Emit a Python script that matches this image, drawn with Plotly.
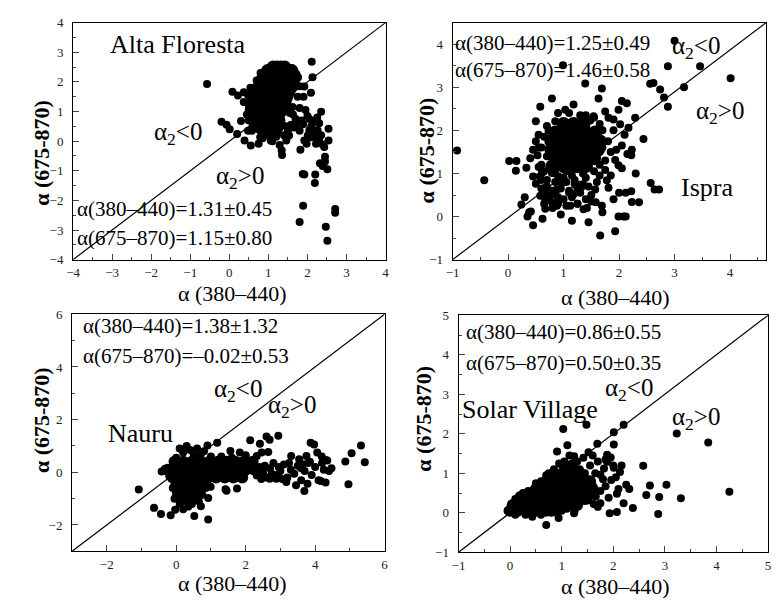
import plotly.graph_objects as go

FONT = "Liberation Serif"

# ---------------- axis ranges / ticks ----------------
p1_xrange = [-4, 4]; p1_yrange = [-4, 4]
p2_xrange = [-1, 4.65]; p2_yrange = [-1, 4.5]
p3_xrange = [-3, 6]; p3_yrange = [-3, 6]
p4_xrange = [-1, 5]; p4_yrange = [-1, 5]

# ---------------- Panel 1: Alta Floresta ----------------
p1_x = [-0.57, -0.2, -0.07, 0.01, 0.08, 0.22, 0.2, 0.3, 0.37, 0.37, 0.39, 0.48, 0.54, 0.55, 0.58,
        0.75, 0.79, 0.48, 0.71, 0.87, 1.06, 1.25, 1.34, 1.29, 1.35, 1.5, 1.46, 1.53, 1.82, 1.92,
        1.98, 2.1, 2.11, 2.13, 2.09, 1.92, 1.88, 2.2, 2.19, 1.89, 1.8, 2.47, 2.51, 2.71, 2.71,
        2.35, 2.54, 2.54, 2.51, 2.45, 2.45, 2.39, 2.32, 2.22, 2.3, 2.26, 2.18, 2.0, 1.89, 1.71,
        1.63, 1.8, 1.92, 1.76, 2.39, 2.43, 2.05, 2.01, 2.18, 1.8, 1.66,
        1.55, 1.62, 1.7, 1.75, 1.8, 1.68, 1.58, 1.45, 1.4, 1.2, 0.95, 0.85, 1.1, 0.6, 0.5, 0.45,
        0.5, 0.55, 0.62, 0.7, 0.8, 1.9, 1.95, 2.05, 2.1, 2.25, 2.3, 2.35, 2.15, 1.85, 1.72, 1.6]
p1_y = [1.93, 0.65, 0.55, 0.4, 1.67, 1.54, 0.24, 0.68, 1.32, 1.65, 0.02, 1.56, 1.8, -0.15, 0.35,
        -0.09, 0.13, 0.35, 0.88, 0.68, 0.02, 0.35, -0.31, -0.13, -0.47, 0.35, 0.02, 0.19, -0.29, 0.02,
        -0.09, 0.13, 2.68, 2.16, 1.63, -1.13, -1.11, -1.13, -1.41, -2.18, -2.73, -2.89, -3.36, -2.29, -2.42,
        0.99, 0.42, 0.02, -0.95, -0.53, -0.69, -0.84, -0.75, -0.09, 0.02, 0.37, 0.66, 0.85, 0.57, 0.57,
        0.9, 1.12, 1.84, 2.16, -0.11, -0.2, 0.37, 0.19, 0.13, 0.35, 0.46,
        0.95, 1.15, 0.75, 1.5, 1.85, 1.9, 0.55, 0.5, 0.2, 0.15, 0.2, 0.1, 0.0, 0.55, 0.7, 0.9,
        1.2, 1.5, 1.8, 2.05, 2.3, 1.5, 1.05, 0.75, 0.5, 0.8, 0.6, 0.2, 0.25, 0.7, 2.25, 2.45]
p1_core_y = [2.5, 2.38, 2.26, 2.14, 2.02, 1.9, 1.78, 1.66, 1.54, 1.42, 1.3, 1.18, 1.06, 0.94, 0.82,
             0.7, 0.58, 0.46, 0.34]
p1_core_x = [
    [1.12, 1.22, 1.32, 1.42],
    [0.98, 1.07, 1.16, 1.25, 1.34, 1.43, 1.52, 1.6],
    [0.92, 1.01, 1.1, 1.19, 1.28, 1.37, 1.46, 1.55, 1.64],
    [0.86, 0.95, 1.04, 1.13, 1.22, 1.31, 1.4, 1.49, 1.58, 1.67],
    [0.82, 0.91, 1.0, 1.09, 1.18, 1.27, 1.36, 1.45, 1.54, 1.63],
    [0.78, 0.87, 0.96, 1.05, 1.14, 1.23, 1.32, 1.41, 1.5, 1.6],
    [0.74, 0.83, 0.92, 1.01, 1.1, 1.19, 1.28, 1.37, 1.46, 1.56],
    [0.7, 0.79, 0.88, 0.97, 1.06, 1.15, 1.24, 1.33, 1.42, 1.52],
    [0.66, 0.75, 0.84, 0.93, 1.02, 1.11, 1.2, 1.29, 1.38, 1.48],
    [0.63, 0.72, 0.81, 0.9, 0.99, 1.08, 1.17, 1.26, 1.35, 1.45],
    [0.6, 0.69, 0.78, 0.87, 0.96, 1.05, 1.14, 1.23, 1.32, 1.42],
    [0.58, 0.67, 0.76, 0.85, 0.94, 1.03, 1.12, 1.21, 1.3, 1.4],
    [0.56, 0.65, 0.74, 0.83, 0.92, 1.01, 1.1, 1.19, 1.28, 1.37],
    [0.56, 0.65, 0.74, 0.83, 0.92, 1.01, 1.1, 1.19, 1.28],
    [0.6, 0.69, 0.78, 0.87, 0.96, 1.05, 1.14, 1.23],
    [0.64, 0.73, 0.82, 0.91, 1.0, 1.09, 1.18, 1.27],
    [0.7, 0.79, 0.88, 0.97, 1.06, 1.15, 1.24],
    [0.78, 0.87, 0.96, 1.05, 1.14, 1.22],
    [0.88, 0.97, 1.06, 1.15],
]

# ---------------- Panel 2: Ispra ----------------
p2_x = [-0.92, -0.43, 0.02, 0.15, 0.14, 0.33, 0.24, 0.35, 0.41, 0.45, 0.5, 0.5, 0.58, 0.79, 0.99,
        1.18, 1.03, 1.39, 1.69, 1.63, 1.45, 1.66, 1.93, 1.99, 2.08, 2.12, 2.12, 2.22, 2.23, 2.36,
        2.44, 2.57, 2.64, 2.72, 2.56, 2.62, 2.74, 2.81, 2.88, 2.88, 3.17, 3.46, 4.01, 3.0, 2.05,
        2.14, 2.02, 2.17, 2.29, 2.23, 2.22, 2.05, 1.99, 1.78, 1.81, 1.69, 1.58, 1.33, 1.36, 1.12,
        0.88, 0.67, 0.67, 0.79, 0.88, 0.97, 0.91, 0.79, 0.61, 0.57, 0.53, 0.73, 0.85, 1.0, 1.24,
        1.48, 1.75, 1.81, 1.99, 1.54, 0.45, 0.58, 0.67, 0.85, 1.18, 1.3, 1.57, 1.75, 1.93,
        0.4, 0.45, 0.5, 0.55, 0.6, 0.7, 0.6, 0.75, 0.9, 1.0, 1.1, 1.2, 1.4, 1.5, 1.65, 1.85, 1.95,
        2.05, 2.1, 2.15, 1.9, 1.3, 1.1, 0.9, 0.7, 0.55, 2.0, 1.9, 1.05, 0.95, 0.8, 0.3, 0.38,
        1.25, 1.42, 0.62, 2.3, 1.7, 1.15,
        0.55, 0.65, 0.75, 0.85, 0.95, 1.05, 1.15, 1.25, 1.35, 1.45, 1.55, 1.65, 1.75, 0.6, 0.7,
        0.85, 0.95, 1.05, 1.15, 1.3, 1.45, 1.6, 0.75, 0.9, 1.25, 1.4, 0.65, 1.7, 1.8, 1.85, 1.7,
        1.9, 0.6, 0.65, 0.7, 1.55, 1.4, 1.65,
        1.0, 1.2, 1.35, 0.8, 1.1, 1.5, 0.7, 1.25]
p2_y = [1.53, 0.84, 1.29, 1.29, 1.06, 1.13, 0.28, 0.0, 0.12, -0.2, 0.76, 2.21, 2.55, 2.74, 3.51,
        2.6, 2.48, 3.09, 2.97, 2.74, -0.13, -0.44, -0.34, 0.0, 0.0, 0.0, 0.55, 0.59, 0.34, 0.33,
        1.8, 0.78, 0.63, 0.63, 3.08, 3.1, 2.95, 2.76, 2.55, 3.49, 3.0, 3.49, 3.21, 4.08, 2.68,
        2.63, 2.14, 2.06, 2.29, 1.55, 1.42, 1.12, 1.19, 0.84, 0.67, 0.25, 0.33, 0.7, 0.17, 0.25,
        0.25, 0.4, 0.67, 0.33, 0.63, 0.78, 0.93, 1.01, 1.01, 0.93, 1.42, 1.99, 2.21, 2.17, 2.14,
        2.23, 2.44, 2.29, 2.48, 2.33, 0.93, 0.48, 0.18, 0.52, 0.52, 0.74, 0.63, 1.08, 1.31,
        1.35, 1.55, 1.75, 1.6, 1.2, 0.85, 0.65, 0.55, 0.45, 0.4, 0.6, 0.75, 0.9, 0.5, 0.95, 0.95, 1.55,
        1.65, 1.9, 1.45, 2.25, 2.35, 2.4, 2.4, 2.1, 1.9, 0.55, 0.4, 0.25, 0.05, 0.2, 0.45, 0.1,
        0.3, 0.2, -0.05, 1.0, 0.1, -0.1,
        1.15, 1.05, 1.15, 1.0, 1.15, 1.05, 0.95, 1.1, 1.0, 1.15, 1.05, 1.2, 1.3, 0.85, 0.7,
        0.8, 0.65, 0.8, 0.45, 0.55, 0.7, 0.8, 0.4, 0.3, 0.3, 0.4, 0.3, 1.6, 1.75, 1.5, 2.0,
        2.0, 1.6, 1.85, 1.4, 2.3, 2.35, 2.15,
        0.9, 0.85, 0.75, 0.6, 0.55, 0.35, 0.55, 0.65]
p2_core_y = [2.15, 1.95, 1.75, 1.55, 1.35, 1.17]
p2_core_x = [
    [1.0, 1.18, 1.36],
    [0.85, 1.03, 1.21, 1.39, 1.57],
    [0.78, 0.96, 1.14, 1.32, 1.5, 1.65],
    [0.78, 0.96, 1.14, 1.32, 1.5, 1.62],
    [0.85, 1.03, 1.21, 1.39, 1.55],
    [0.8, 1.0, 1.2, 1.4],
]

# ---------------- Panel 3: Nauru ----------------
p3_x = [-1.08, -0.64, -0.44, -0.16, -0.03, 0.52, 0.92, 0.92, 0.71, 0.99, -0.42, -0.33, 1.42, 1.75,
        0.9, 1.18, 1.56, 1.83, 2.13, 2.41, 2.6, 2.69, 2.94, 2.46, 2.32, 2.65, 2.2, 3.31, 3.54, 3.64,
        3.87, 3.97, 3.75, 4.06, 4.19, 4.3, 4.47, 4.87, 5.05, 5.32, 5.43, 4.96, 4.16, 4.3, 3.69, 3.78,
        3.45, 3.17, 2.88, 2.69, 2.32, 1.75, 1.45,
        2.5, 2.6, 2.7, 2.8, 2.9, 3.0, 3.1, 3.2, 3.3, 3.4, 3.5, 3.6, 3.7, 3.8, 3.9, 4.0, 4.1, 4.2, 4.35, 4.4,
        2.55, 2.75, 2.95, 3.05, 3.25, 3.6, 3.85, 4.25, 1.3, 1.6, 2.0, 2.4, 2.45,
        -0.3, -0.2, 0.0, 0.1, 0.2, 0.4, 0.6, 0.8, 1.0, 0.05, 0.1, 0.2, 0.45, 0.55, 0.75, 0.85,
        -0.1, -0.05, 0.35, 0.65, 0.95, 0.3, 0.7, 0.5]
p3_y = [-0.65, -1.35, -1.58, -1.63, -1.42, -1.66, -1.79, -0.98, -1.29, -0.55, 0.03, 0.13, -0.64, -0.61,
        1.02, 1.12, 0.81, 0.75, 1.22, 1.08, 1.36, 1.24, 1.39, 0.75, 0.62, 0.77, 0.31, 0.62, 0.5, 0.31,
        1.12, 1.06, 0.62, 0.75, 0.6, 0.47, 0.15, 0.41, 0.72, 1.02, 0.38, -0.45, -0.33, -0.39, -0.71, -0.43,
        -0.49, -0.37, -0.24, -0.24, -0.12, -0.12, -0.7,
        0.0, -0.2, 0.15, 0.35, -0.1, 0.05, 0.3, -0.2, 0.1, -0.05, 0.25, -0.3, 0.05, 0.35, -0.1, 0.2, -0.3, 0.35, 0.45, 0.05,
        0.25, -0.05, 0.2, -0.25, 0.35, 0.15, 0.4, 0.1, 0.6, 0.55, 0.65, 0.2, -0.25,
        0.1, -0.15, 0.55, 0.9, 0.75, 0.85, 0.9, 0.8, 0.6, -0.9, -1.2, -1.4, -1.2, -1.0, -0.85, -0.6,
        -0.6, -1.0, -1.3, -1.1, -0.25, 1.0, 0.65, 0.7]
p3_core_y = [0.4, 0.1, -0.2, -0.5, -0.8, -1.05]
p3_core_x = [
    [-0.05, 0.2, 0.45, 0.7, 0.95, 1.2, 1.45, 1.7, 1.95, 2.2],
    [-0.25, 0.0, 0.25, 0.5, 0.75, 1.0, 1.25, 1.5, 1.75, 2.0, 2.25],
    [-0.1, 0.15, 0.4, 0.65, 0.9, 1.15, 1.4, 1.65, 1.9],
    [0.0, 0.25, 0.5, 0.75],
    [0.05, 0.3, 0.55],
    [0.15, 0.4],
]

# ---------------- Panel 4: Solar Village ----------------
p4_x = [1.48, 1.03, 2.2, 2.01, 1.69, 1.11, 0.91, 2.01, 1.52, 1.88, 2.58, 3.23, 3.84, 4.25, 3.31,
        3.03, 2.71, 2.64, 2.89, 2.87, 2.38, 2.2, 2.07, 2.25, 2.31, 2.07, 1.91, 1.93, 1.75, 1.62,
        1.24, 0.94, 0.7, 0.43, 2.13, 2.16, 1.88, 1.82, 1.75, 1.96, 1.85, 1.66, 1.5, 1.4, 2.01,
        1.24, 1.42,
        1.3, 1.35, 1.45, 1.5, 1.55, 1.6, 1.65, 1.7, 1.75, 1.8, 1.85, 1.95, 2.0, 2.05, 2.1, 1.2,
        1.1, 1.3, 1.45, 1.0, 0.8, 0.6, 0.3, 0.1, -0.05, 0.05, 0.1, 0.25, 0.35, 0.5, 0.7, 0.85,
        0.95, 1.15, 0.75, 0.6, 1.6, 1.7, 1.25, 1.05]
p4_y = [2.23, 2.12, 2.23, 2.04, 1.75, 1.71, 1.55, 1.73, 1.53, 1.47, 1.19, 2.01, 1.78, 0.53, 0.37,
        0.71, 0.69, 0.45, 0.4, -0.03, 0.12, 0.24, 0.02, 0.71, 0.6, 0.48, 0.38, -0.01, 0.24, 0.22,
        -0.01, -0.13, -0.31, -0.1, 1.03, 1.2, 1.29, 1.12, 0.96, 0.83, 0.67, 0.41, 0.31, 0.47, 1.14,
        1.43, 1.39,
        1.3, 1.1, 1.0, 0.85, 1.2, 0.7, 1.0, 1.3, 0.55, 0.85, 1.35, 1.4, 1.2, 0.9, 0.6, 0.2,
        0.1, 0.5, 0.3, 0.05, 0.0, -0.05, -0.05, -0.05, 0.05, 0.15, 0.35, 0.5, 0.55, 0.75, 0.95, 1.1,
        1.25, 1.45, 1.0, 0.8, 1.45, 0.15, 0.05, 1.3]
p4_core_y = [1.2, 1.0, 0.8, 0.6, 0.4, 0.2, 0.05]
p4_core_x = [
    [1.05, 1.2],
    [0.85, 1.02, 1.2, 1.35],
    [0.7, 0.88, 1.05, 1.22, 1.4, 1.55],
    [0.5, 0.68, 0.86, 1.04, 1.22, 1.4, 1.6],
    [0.2, 0.38, 0.56, 0.74, 0.92, 1.1, 1.28, 1.5],
    [0.05, 0.22, 0.4, 0.58, 0.76, 0.94, 1.12, 1.3],
    [0.0, 0.15, 0.32, 0.5, 0.7, 0.9],
]

# ---------------- texts ----------------
stats = [
    ["α(380–440)=1.31±0.45", "α(675–870)=1.15±0.80"],
    ["α(380–440)=1.25±0.49", "α(675–870)=1.46±0.58"],
    ["α(380–440)=1.38±1.32", "α(675–870)=–0.02±0.53"],
    ["α(380–440)=0.86±0.55", "α(675–870)=0.50±0.35"],
]
sites = ["Alta Floresta", "Ispra", "Nauru", "Solar Village"]
x_title = "α (380–440)"
y_title = "α (675-870)"

W, H = 777, 612


def px(x):
    return x / W


def py(y):
    return 1 - y / H


fig = go.Figure()

panels = [
    (p1_x, p1_y, p1_core_x, p1_core_y, p1_xrange, p1_yrange, "x", "y", 13),
    (p2_x, p2_y, p2_core_x, p2_core_y, p2_xrange, p2_yrange, "x2", "y2", 14),
    (p3_x, p3_y, p3_core_x, p3_core_y, p3_xrange, p3_yrange, "x3", "y3", 12),
    (p4_x, p4_y, p4_core_x, p4_core_y, p4_xrange, p4_yrange, "x4", "y4", 12),
]

for xs, ys, cxs, cys, xr, yr, xa, ya, csize in panels:
    cx, cy = [], []
    for yv, row in zip(cys, cxs):
        for xv in row:
            cx.append(xv)
            cy.append(yv)
    fig.add_trace(go.Scatter(x=[xr[0], xr[1]], y=[yr[0], yr[1]], mode="lines",
                             line=dict(color="black", width=1.2), xaxis=xa, yaxis=ya,
                             showlegend=False, hoverinfo="skip"))
    fig.add_trace(go.Scatter(x=cx, y=cy, mode="markers",
                             marker=dict(color="black", size=csize), xaxis=xa, yaxis=ya,
                             showlegend=False))
    fig.add_trace(go.Scatter(x=xs, y=ys, mode="markers",
                             marker=dict(color="black", size=8), xaxis=xa, yaxis=ya,
                             showlegend=False))

domains = [
    ([px(67), px(384)], [py(259), py(16)]),
    ([px(452), px(770)], [py(259), py(16)]),
    ([px(66), px(383)], [py(558), py(315)]),
    ([px(458), px(772)], [py(559), py(316)]),
]
ticks = [(1, 1), (1, 1), (2, 2), (1, 1)]
ranges = [(p1_xrange, p1_yrange), (p2_xrange, p2_yrange), (p3_xrange, p3_yrange), (p4_xrange, p4_yrange)]

layout = dict(
    width=W, height=H, margin=dict(l=0, r=0, t=0, b=0),
    paper_bgcolor="white", plot_bgcolor="white", showlegend=False,
    font=dict(family=FONT, color="black"),
)
for i in range(4):
    sfx = "" if i == 0 else str(i + 1)
    (dx, dy) = domains[i]
    (xr, yr) = ranges[i]
    (dtx, dty) = ticks[i]
    common = dict(showline=True, linecolor="black", linewidth=1, mirror=True,
                  showgrid=False, zeroline=False, ticks="inside", ticklen=6,
                  tickcolor="#444", tickfont=dict(family=FONT, size=13, color="#222"),
                  tick0=0)
    layout["xaxis" + sfx] = dict(common, domain=dx, range=xr, dtick=dtx,
                                 anchor="y" + sfx, ticklabelstandoff=1,
                                 minor=dict(ticks="inside", ticklen=3, dtick=dtx / 2, tickcolor="#444"))
    layout["yaxis" + sfx] = dict(common, domain=dy, range=yr, dtick=dty,
                                 anchor="x" + sfx, ticklabelstandoff=6,
                                 minor=dict(ticks="inside", ticklen=3, dtick=dty / 2, tickcolor="#444"))
fig.update_layout(**layout)

ann = []


def add(text, x, y, size, xanchor="left", angle=0):
    ann.append(dict(text=text, x=px(x), y=py(y), xref="paper", yref="paper",
                    xanchor=xanchor, yanchor="middle", showarrow=False, textangle=angle,
                    font=dict(family=FONT, size=size, color="black")))


# stats text
stat_pos = [((69, 207), (69, 237)), ((452, 37), (452, 65)), ((75, 327), (75, 358)), ((464, 333), (464, 365))]
for (l1, l2), ((x1, y1), (x2, y2)) in zip(stats, stat_pos):
    add(l1, x1, y1, 21)
    add(l2, x2, y2, 21)

# site names
site_pos = [(173, 38), (710, 185), (135, 437), (531, 413)]
for s, (x, y) in zip(sites, site_pos):
    add(s, x, y, 26, xanchor="center")

# alpha2 labels
lt = [(147, 130), (673, 42), (208, 393), (605, 392)]
gt = [(210, 175), (697, 108), (263, 410), (673, 422)]
for (x, y) in lt:
    add("α<sub>2</sub>&lt;0", x, y, 25)
for (x, y) in gt:
    add("α<sub>2</sub>&gt;0", x, y, 25)

# axis titles
xt_pos = [(229, 294), (617, 298), (229, 591), (617, 594)]
for (x, y) in xt_pos:
    add(x_title, x, y, 22, xanchor="center")
yt_pos = [(35, 150), (425, 147), (35, 424), (423, 422)]
for (x, y) in yt_pos:
    add("<b>" + y_title + "</b>", x, y, 22, xanchor="center", angle=-90)

fig.update_layout(annotations=ann)
fig.write_html("out.html")
